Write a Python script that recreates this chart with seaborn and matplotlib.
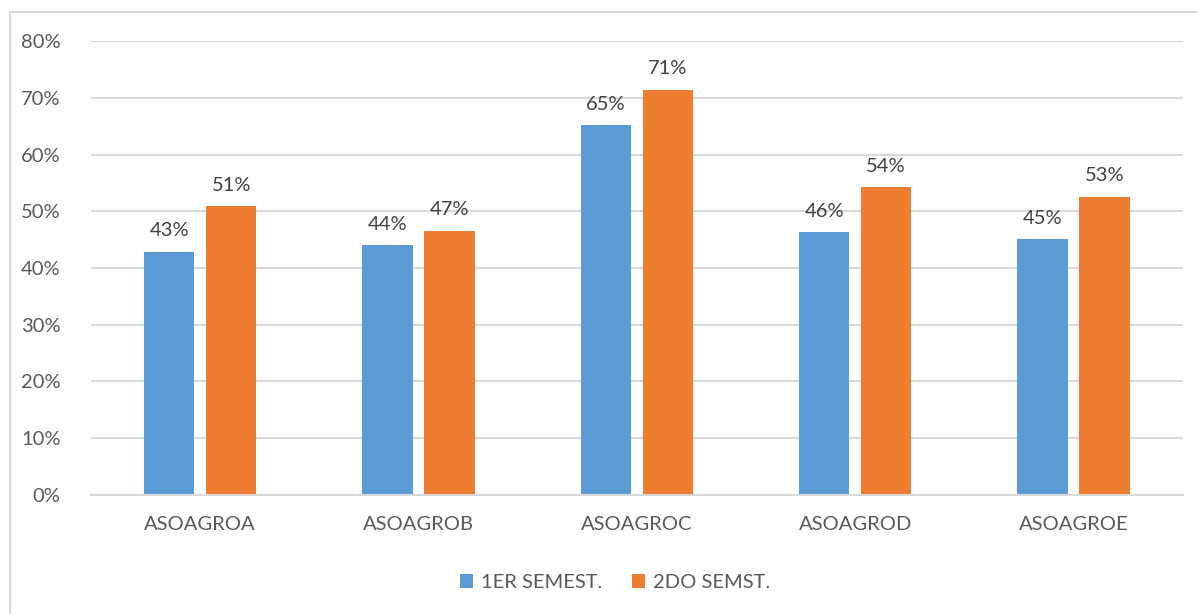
import numpy as np
import pandas as pd
import matplotlib
matplotlib.use("Agg")
import matplotlib.pyplot as plt
import seaborn as sns
from matplotlib.lines import Line2D

# Data
categories = ["ASOAGROA", "ASOAGROB", "ASOAGROC", "ASOAGROD", "ASOAGROE"]
series_names = ["1ER SEMEST.", "2DO SEMST."]
sem1 = [0.429, 0.440, 0.652, 0.463, 0.451]
sem2 = [0.509, 0.466, 0.714, 0.542, 0.526]
labels1 = ["43%", "44%", "65%", "46%", "45%"]
labels2 = ["51%", "47%", "71%", "54%", "53%"]
y_ticks = [0, 0.1, 0.2, 0.3, 0.4, 0.5, 0.6, 0.7, 0.8]

colors = ["#5b9bd5", "#ed7d31"]

sns.set_theme(style="white")
plt.rcParams['font.family'] = ['Lato', 'DejaVu Sans']

df = pd.DataFrame({
    "cat": categories * 2,
    "serie": [series_names[0]] * 5 + [series_names[1]] * 5,
    "val": sem1 + sem2,
})

fig = plt.figure(figsize=(11.97, 6.14), dpi=100)
ax = fig.add_axes([0.076, 0.194, 0.912, 0.739])

sns.barplot(data=df, x="cat", y="val", hue="serie", palette=colors,
            width=0.568, gap=0.19, ax=ax, saturation=1, legend=True,
            linewidth=0)

ax.set_ylim(0, 0.8)
ax.set_xlim(-0.5, 4.5)
ax.set_yticks(y_ticks)
ax.set_yticklabels([f"{int(round(t*100))}%" for t in y_ticks])
ax.yaxis.grid(True, color="#d9d9d9", linewidth=1.5)
ax.set_axisbelow(True)
for s in ["top", "right", "left"]:
    ax.spines[s].set_visible(False)
ax.spines["bottom"].set_color("#d9d9d9")
ax.spines["bottom"].set_linewidth(1.5)
ax.tick_params(axis="both", length=0, labelsize=14.5, colors="#595959")
ax.tick_params(axis="x", pad=15)
ax.tick_params(axis="y", pad=22)
ax.set_xlabel("")
ax.set_ylabel("")

for cont, labs in zip(ax.containers, [labels1, labels2]):
    ax.bar_label(cont, labels=labs, padding=9, fontsize=14.5, color="#404040")

handles, _ = ax.get_legend_handles_labels()
ax.legend(handles, series_names, loc="upper center", bbox_to_anchor=(0.48, -0.135),
          ncol=2, frameon=False, fontsize=14.5, handlelength=0.65, handleheight=0.65,
          columnspacing=1.5, handletextpad=0.4, labelcolor="#595959")

# chart frame (top and left edges visible)
fig.add_artist(Line2D([10/1197, 1], [1-12/614, 1-12/614], color="#d9d9d9", linewidth=1.5))
fig.add_artist(Line2D([10/1197, 10/1197], [0, 1-12/614], color="#d9d9d9", linewidth=1.5))

fig.savefig("out.png", dpi=100)
